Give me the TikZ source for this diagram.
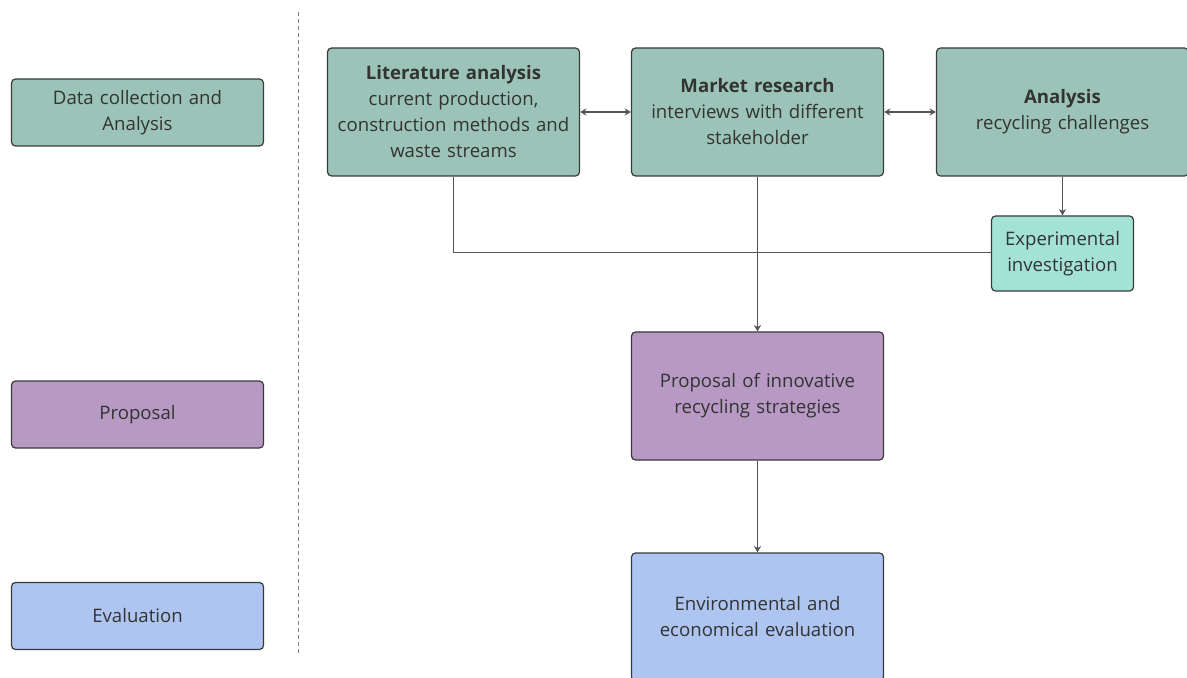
\documentclass[tikz,border=0pt]{standalone}
\usepackage{fontspec}
\setmainfont{Open Sans}
\usetikzlibrary{arrows.meta,positioning}
\definecolor{collectfill}{HTML}{9BC3B8}
\definecolor{testfill}{HTML}{A3E3D6}
\definecolor{proposalfill}{HTML}{B799C4}
\definecolor{evalfill}{HTML}{ADC5F0}
\definecolor{boxline}{HTML}{3A3A3A}
\definecolor{linkgray}{HTML}{555555}
\definecolor{textgray}{HTML}{333333}
\tikzset{
  stagebox/.style={draw=boxline, rounded corners=2pt, line width=0.6pt, align=center,
    text=textgray, font=\fontsize{9.3}{13}\selectfont, inner sep=2pt},
  phasebox/.style={stagebox, minimum width=126pt, minimum height=33.5pt, text width=120pt},
  workbox/.style={stagebox, minimum width=126pt, minimum height=64pt, text width=120pt},
  testbox/.style={stagebox, fill=testfill, minimum width=71pt, minimum height=37.5pt, text width=66pt},
  link/.style={draw=linkgray, line width=0.55pt},
  arr/.style={link, -{Stealth[length=3.2pt, width=3.6pt]}},
  biarr/.style={link, {Stealth[length=3.2pt, width=3.6pt]}-{Stealth[length=3.2pt, width=3.6pt]}},
  divider/.style={draw=gray, line width=0.5pt, dash pattern=on 2pt off 1.5pt}
}
\begin{document}
\begin{tikzpicture}[x=0.5pt, y=-0.5pt]
    \useasboundingbox (0,0) rectangle (1187,678);
    % phases on the left
    \node[phasebox, fill=collectfill] (collect) at (137.5,112.5) {Data collection and\\Analysis};
    \node[phasebox, fill=proposalfill] (phaseprop) at (137.5,414.5) {Proposal};
    \node[phasebox, fill=evalfill] (phaseeval) at (137.5,616) {Evaluation};
    \coordinate (divtop) at (298,12);
    \coordinate (divbot) at (298,655);
    \draw[divider] (divtop) -- (divbot);
    % workflow
    \node[workbox, fill=collectfill] (lit) at (453.5,112) {\textbf{Literature analysis}\\current production,\\construction methods and\\waste streams};
    \node[workbox, fill=collectfill] (market) at (757.5,112) {\textbf{Market research}\\interviews with different\\stakeholder};
    \node[workbox, fill=collectfill] (analysis) at (1062.5,112) {\textbf{Analysis}\\recycling challenges};
    \node[testbox] (exper) at (1062.5,253.5) {Experimental\\investigation};
    \node[workbox, fill=proposalfill] (strategy) at (757.5,396) {Proposal of innovative\\recycling strategies};
    \node[workbox, fill=evalfill] (assess) at (757.5,617) {Environmental and\\economical evaluation};
    \coordinate (join) at (757.5,252.5);
    \draw[biarr] (lit) -- (market);
    \draw[biarr] (market) -- (analysis);
    \draw[arr] (analysis) -- (exper);
    \draw[link] (lit.south) |- (join);
    \draw[link] (exper.west |- join) -- (join);
    \draw[arr] (market) -- (strategy);
    \draw[arr] (strategy) -- (assess);
  \end{tikzpicture}
\end{document}
